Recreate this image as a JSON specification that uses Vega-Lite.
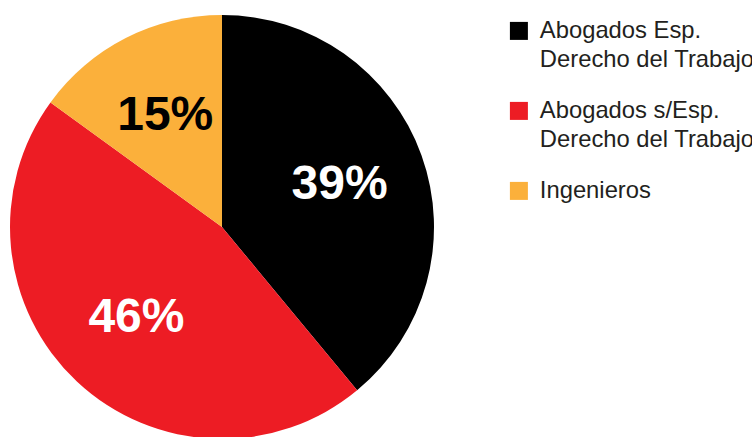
{
  "$schema": "https://vega.github.io/schema/vega-lite/v6.json",
  "width": 424,
  "height": 424,
  "padding": {"left": 10, "top": 15, "right": 318, "bottom": 0},
  "autosize": {"type": "none"},
  "background": "white",
  "data": {
    "values": [
      {"idx": 1, "cat": "Abogados Esp.|Derecho del Trabajo", "pct": 39, "label": "39%"},
      {"idx": 2, "cat": "Abogados s/Esp.|Derecho del Trabajo", "pct": 46, "label": "46%"},
      {"idx": 3, "cat": "Ingenieros", "pct": 15, "label": "15%"}
    ]
  },
  "encoding": {
    "theta": {"field": "pct", "type": "quantitative", "stack": true},
    "order": {"field": "idx", "type": "quantitative"}
  },
  "layer": [
    {
      "mark": {"type": "arc", "outerRadius": 212},
      "encoding": {
        "color": {
          "field": "cat",
          "type": "nominal",
          "sort": null,
          "scale": {
            "domain": ["Abogados Esp.|Derecho del Trabajo", "Abogados s/Esp.|Derecho del Trabajo", "Ingenieros"],
            "range": ["#000000", "#ED1C24", "#FBB03B"]
          },
          "legend": {
            "title": null,
            "orient": "none",
            "legendX": 497,
            "legendY": 4,
            "symbolType": "square",
            "symbolSize": 324,
            "symbolStrokeWidth": 0,
            "labelFont": "Liberation Sans",
            "labelFontSize": 23.8,
            "labelColor": "#231F20",
            "labelOffset": 9,
            "labelLimit": 400,
            "rowPadding": 26,
            "labelExpr": "split(datum.label, '|')",
            "encode": {
              "labels": {"update": {"lineHeight": {"value": 29}}}
            }
          }
        }
      }
    },
    {
      "mark": {"type": "text", "radius": 125, "font": "Liberation Sans", "fontWeight": "bold", "fontSize": 48},
      "encoding": {
        "text": {"field": "label"},
        "color": {
          "condition": {"test": "datum.idx == 3", "value": "#000000"},
          "value": "#FFFFFF"
        }
      }
    }
  ]
}
